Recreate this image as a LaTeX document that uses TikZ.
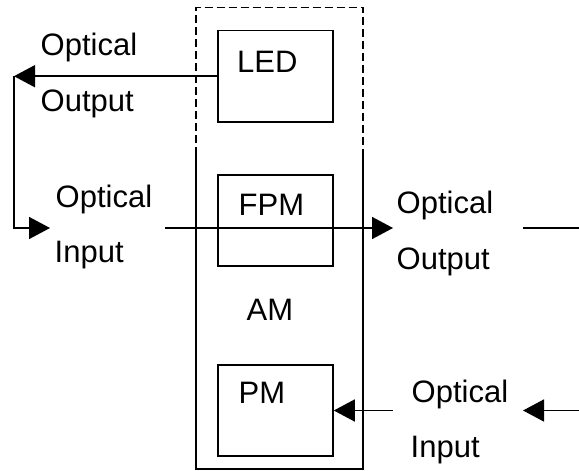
\documentclass[tikz,border=0pt]{standalone}
\usepackage{fontspec}
\setmainfont{Liberation Sans}
\usetikzlibrary{arrows.meta}
\begin{document}
\begin{tikzpicture}[x=1pt,y=-1pt,
  box/.style={draw, line width=1.6pt, inner sep=0pt, minimum width=115pt, minimum height=91.5pt},
  lbl/.style={anchor=base west, inner sep=0pt, font=\fontsize{31}{36}\selectfont},
  wire/.style={line width=1.6pt},
  arr/.style={wire, -{Triangle[length=21pt,width=22pt]}}]
\useasboundingbox (0,0) rectangle (579,471);
% outer AM box
\coordinate (oTL) at (196,7.5);
\coordinate (oTR) at (363,7.5);
\coordinate (oML) at (196,155);
\coordinate (oMR) at (363,155);
\coordinate (oBL) at (196,469);
\coordinate (oBR) at (363,469);
\draw[wire, dash pattern=on 8pt off 4pt] (oML) -- (oTL) -- (oTR) -- (oMR);
\draw[wire] (oML) -- (oBL) -- (oBR) -- (oMR);
% inner boxes
\node[box] (led) at (275.5,76.2) {};
\node[box] (fpm) at (275.5,220.5) {};
\node[box] (pm) at (275.5,410.5) {};
\node[lbl] (ledt) at (237,72) {LED};
\node[lbl] (fpmt) at (238.5,215) {FPM};
\node[lbl] (amt) at (246.5,320) {AM};
\node[lbl] (pmt) at (238.5,403) {PM};
% text labels
\node[lbl] (oo1a) at (40.5,55) {Optical};
\node[lbl] (oo1b) at (40.5,111) {Output};
\node[lbl] (oi1a) at (55.5,207) {Optical};
\node[lbl] (oi1b) at (54.5,262) {Input};
\node[lbl] (oo2a) at (396.5,213) {Optical};
\node[lbl] (oo2b) at (396.5,269) {Output};
\node[lbl] (oi2a) at (411.5,402) {Optical};
\node[lbl] (oi2b) at (410.5,457) {Input};
% connectors
\coordinate (cL1) at (14,76.2);
\coordinate (cL2) at (14,228);
\coordinate (cIn) at (50,228);
\draw[arr] (led.west) -- (cL1);
\draw[arr] (cL1) -- (cL2) -- (cIn);
\coordinate (mA) at (165,228);
\coordinate (mB) at (393,228);
\draw[arr] (mA) -- (mB);
\coordinate (rA) at (523,228);
\coordinate (rB) at (579,228);
\draw[wire] (rA) -- (rB);
\coordinate (pA) at (393,410.5);
\draw[arr] (pA) -- (pm.east);
\coordinate (qA) at (579,410.5);
\coordinate (qB) at (523,410.5);
\draw[arr] (qA) -- (qB);
\end{tikzpicture}
\end{document}
